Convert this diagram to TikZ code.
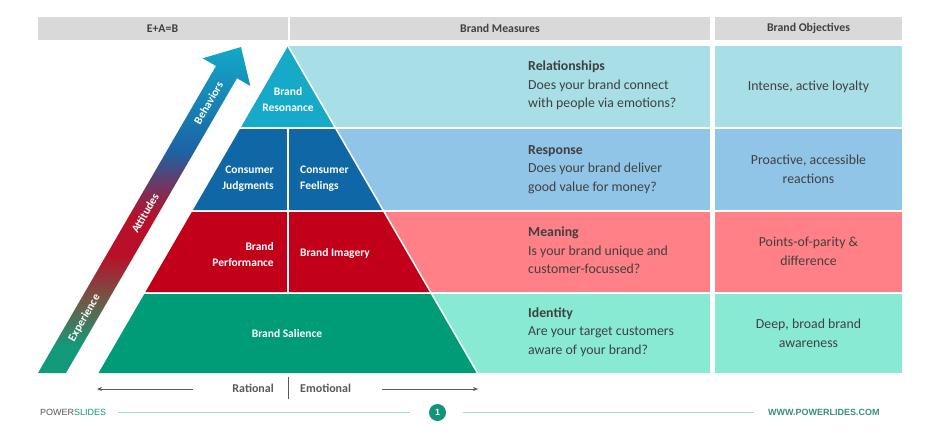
\documentclass[tikz,border=0pt]{standalone}
\usepackage{fontspec}
\setmainfont{Carlito}
\newfontfamily\arialf{Liberation Sans}
\usetikzlibrary{arrows.meta}
\definecolor{hdrgray}{HTML}{D9D9D9}
\definecolor{txtgray}{HTML}{404040}
\definecolor{axisgray}{HTML}{595959}
\definecolor{rAdark}{HTML}{17A9C8}
\definecolor{rAlight}{HTML}{A8DEE6}
\definecolor{rBdark}{HTML}{0F67A6}
\definecolor{rBlight}{HTML}{91C5E8}
\definecolor{rCdark}{HTML}{C2001A}
\definecolor{rClight}{HTML}{FF8087}
\definecolor{rDdark}{HTML}{009B77}
\definecolor{rDlight}{HTML}{88EAD3}
\definecolor{agreen}{HTML}{129A7B}
\definecolor{amix}{HTML}{6E5A48}
\definecolor{ared}{HTML}{B8102A}
\definecolor{ablue}{HTML}{1C63A3}
\definecolor{acyan}{HTML}{13A8C8}
\definecolor{footline}{HTML}{A9DCCF}
\definecolor{footgreen}{HTML}{11957A}
\definecolor{wwwgreen}{HTML}{3A8F7C}
\pgfdeclareverticalshading{arrowgrad}{100bp}{color(0bp)=(agreen); color(25bp)=(agreen); color(29bp)=(agreen); color(36bp)=(amix); color(43bp)=(ared); color(49bp)=(ared); color(59bp)=(ablue); color(75bp)=(acyan); color(100bp)=(acyan)}
\begin{document}
\begin{tikzpicture}[x=1pt,y=-1pt,
  hdrbox/.style={fill=hdrgray, draw=none, minimum height=23pt, inner sep=0pt,
    font=\fontsize{11.8}{13}\selectfont\bfseries, text=txtgray},
  pyrlabel/.style={font=\fontsize{11.5}{16}\selectfont\bfseries, text=white, inner sep=0pt},
  meas/.style={font=\fontsize{13.8}{18.5}\selectfont, text=txtgray, align=left, anchor=west, inner sep=0pt},
  obj/.style={font=\fontsize{13.8}{19}\selectfont, text=txtgray, align=center, inner sep=0pt},
  arrowlabel/.style={font=\fontsize{11.5}{13}\selectfont\bfseries, text=white, rotate=60, inner sep=0pt},
  axislabel/.style={font=\fontsize{12}{13}\selectfont\bfseries, text=axisgray, inner sep=0pt},
  axisarrow/.style={draw=axisgray, line width=0.7pt, -{Stealth[length=5pt,width=4pt]}},
  footrule/.style={draw=footline, line width=1.2pt}
]
\useasboundingbox[fill=white] (0,0) rectangle (943,432);

% header
\node[hdrbox, minimum width=250pt] (hA) at (162.5,28.5) {E+A=B};
\node[hdrbox, minimum width=420pt] (hB) at (500,28.5) {Brand Measures};
\node[hdrbox, minimum width=187pt] (hC) at (808.5,28.5) {Brand Objectives};

% measure bands
\fill[rAlight] (288,46) rectangle (710,127);
\fill[rBlight] (288,129) rectangle (710,210);
\fill[rClight] (288,212) rectangle (710,292);
\fill[rDlight] (288,294) rectangle (710,373);
% objective bands
\fill[rAlight] (715,46) rectangle (902,127);
\fill[rBlight] (715,129) rectangle (902,210);
\fill[rClight] (715,212) rectangle (902,292);
\fill[rDlight] (715,294) rectangle (902,373);

% pyramid
\fill[rAdark] (288,46) -- (334.9,127) -- (241.1,127) -- cycle;
\fill[rBdark] (239.9,129) -- (336.1,129) -- (383.0,210) -- (193.0,210) -- cycle;
\fill[rCdark] (191.8,212) -- (384.2,212) -- (430.6,292) -- (145.4,292) -- cycle;
\fill[rDdark] (144.3,294) -- (431.7,294) -- (477.5,373) -- (98.5,373) -- cycle;
\draw[white, line width=1.5pt] (288,46) -- (477.5,373);
\draw[white, line width=1.2pt] (288,129) -- (288,292);

% pyramid labels
\node[pyrlabel, align=center] (pRes) at (288,100) {Brand\\Resonance};
\node[pyrlabel, align=right, anchor=east] (pJud) at (274,179) {Consumer\\Judgments};
\node[pyrlabel, align=left, anchor=west] (pFee) at (300,179) {Consumer\\Feelings};
\node[pyrlabel, align=right, anchor=east] (pPer) at (274,254.5) {Brand\\Performance};
\node[pyrlabel, anchor=west] (pIma) at (300,253) {Brand Imagery};
\node[pyrlabel] (pSal) at (287,334) {Brand Salience};

% gradient arrow
\shade[shading=arrowgrad] (38,373) -- (216,66) -- (202.7,58.3) -- (241,47) -- (250.3,85.9) -- (237,78.2) -- (66,373) -- cycle;
\node[arrowlabel] (aExp) at (84.5,318) {Experience};
\node[arrowlabel] (aAtt) at (145,213) {Attitudes};
\node[arrowlabel] (aBeh) at (208.5,103) {Behaviors};

% measures texts
\node[meas] (mA) at (528,85.5) {\textbf{Relationships}\\Does your brand connect\\with people via emotions?};
\node[meas] (mB) at (528,169.5) {\textbf{Response}\\Does your brand deliver\\good value for money?};
\node[meas] (mC) at (528,250.5) {\textbf{Meaning}\\Is your brand unique and\\customer-focussed?};
\node[meas] (mD) at (528,332) {\textbf{Identity}\\Are your target customers\\aware of your brand?};

% objectives texts
\node[obj] (oA) at (808.5,87) {Intense, active loyalty};
\node[obj] (oB) at (808.5,169.5) {Proactive, accessible\\reactions};
\node[obj] (oC) at (808.5,251.5) {Points-of-parity \&\\difference};
\node[obj] (oD) at (808.5,333.5) {Deep, broad brand\\awareness};

% rational / emotional axis
\node[axislabel, anchor=east] (rat) at (274,388) {Rational};
\node[axislabel, anchor=west] (emo) at (300,388) {Emotional};
\coordinate (dTop) at (288,377);
\coordinate (dBot) at (288,399);
\draw[axisgray, line width=0.8pt] (dTop) -- (dBot);
\coordinate (lStart) at (193,389);
\coordinate (lEnd) at (97,389);
\coordinate (rStart) at (382,389);
\coordinate (rEnd) at (478,389);
\draw[axisarrow] (lStart) -- (lEnd);
\draw[axisarrow] (rStart) -- (rEnd);

% footer
\node[anchor=west, inner sep=0pt, font=\arialf\fontsize{9}{10}\selectfont] (ps) at (40,412)
  {\textcolor{axisgray}{POWER}\textcolor{footgreen}{SLIDES}};
\node[circle, fill=footgreen, minimum size=17pt, inner sep=0pt, text=white,
  font=\arialf\bfseries\fontsize{9}{10}\selectfont] (pg) at (437.5,412.5) {1};
\node[anchor=west, inner sep=0pt, text=wwwgreen, font=\arialf\bfseries\fontsize{9}{10}\selectfont] (www) at (768,412) {WWW.POWERLIDES.COM};
\coordinate (fA1) at (118,412.5);
\coordinate (fA2) at (410,412.5);
\coordinate (fB1) at (463,412.5);
\coordinate (fB2) at (754,412.5);
\draw[footrule] (fA1) -- (fA2);
\draw[footrule] (fB1) -- (fB2);
\end{tikzpicture}
\end{document}
